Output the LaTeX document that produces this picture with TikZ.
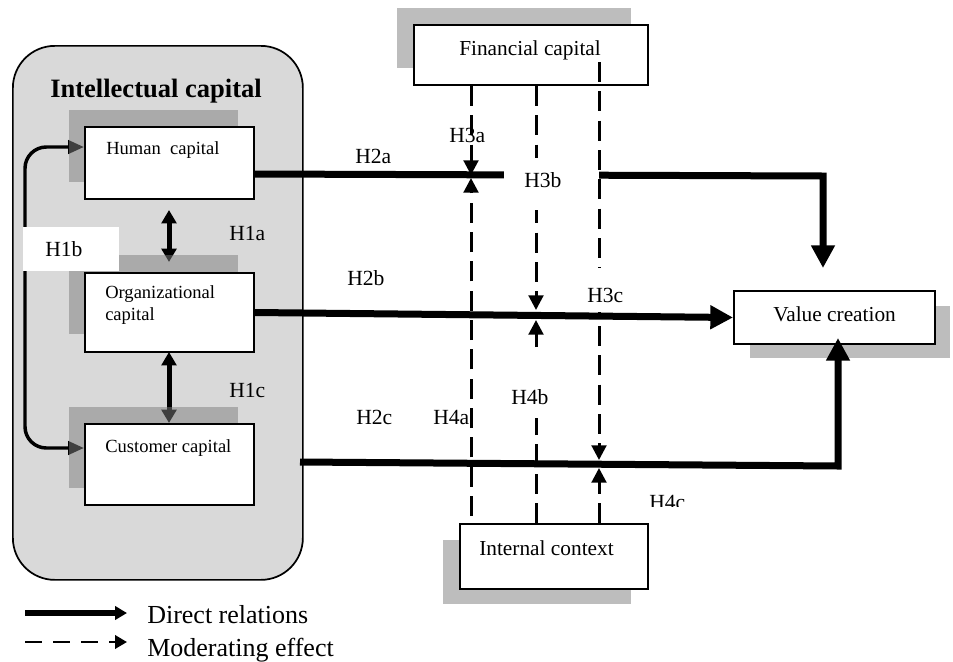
\documentclass[tikz,border=0pt]{standalone}
\usepackage{fontspec}
\setmainfont{Liberation Serif}
\usetikzlibrary{arrows.meta,calc}
\definecolor{icgray}{RGB}{217,217,217}
\definecolor{shadowgray}{RGB}{125,125,125}
\newcommand\tkinfont{\fontsize{13.9}{16}\selectfont}
\newcommand\tkoutfont{\fontsize{16}{19}\selectfont}
\newcommand\tklabfont{\fontsize{16.2}{19}\selectfont}
\newcommand\tktitlefont{\fontsize{19.9}{23}\selectfont\bfseries}
\newcommand\tklegfont{\fontsize{19.5}{23}\selectfont}
\begin{document}
\begin{tikzpicture}[x=0.75pt,y=-0.75pt,
  boxnode/.style={draw=black, line width=1.5pt, fill=white, rectangle, inner sep=0pt, anchor=north west},
  shadowbox/.style={fill=shadowgray, fill opacity=0.51},
  txt/.style={anchor=base west, inner sep=0pt},
  intext/.style={txt, font=\tkinfont},
  outtext/.style={txt, font=\tkoutfont},
  hlab/.style={txt, font=\tklabfont},
  mainline/.style={line width=5.25pt, -{Triangle[length=17pt,width=17pt]}},
  dblarrow/.style={line width=3.75pt, {Triangle[length=10pt,width=11pt]}-{Triangle[length=10pt,width=11pt]}},
  hbarrow/.style={line width=2.6pt, rounded corners=16pt, {Triangle[length=12pt,width=10pt]}-{Triangle[length=12pt,width=10pt]}},
  modline/.style={line width=2.25pt, dash pattern=on 15pt off 7pt, -{Triangle[length=11pt,width=11pt]}},
  legsolid/.style={line width=4.5pt, -{Triangle[length=9pt,width=10pt]}},
  legdash/.style={line width=2pt, dash pattern=on 13pt off 8pt, -{Triangle[length=9pt,width=10pt]}},
  whitecover/.style={fill=white}
]
\useasboundingbox (0,0) rectangle (953,661);

% Intellectual capital container
\node[draw, line width=1.3pt, fill=icgray, rounded corners=31.5pt, minimum width=217.5pt, minimum height=400.5pt, anchor=north west, inner sep=0pt] (ic) at (12,45) {};
\node[txt, font=\tktitlefont] (ictitle) at (50,97) {Intellectual capital};

\path (84,126) coordinate (hnw) (84,272) coordinate (onw) (84,423) coordinate (cnw);

% H1 arrows (drawn before shadows)
\coordinate (h1atop) at (169,210);
\coordinate (h1abot) at (169,262);
\draw[dblarrow] (h1atop) -- (h1abot);
\coordinate (h1ctop) at (169,352);
\coordinate (h1cbot) at (169,423);
\draw[dblarrow] (h1ctop) -- (h1cbot);
\coordinate (h1bs) at (84,147);
\coordinate (h1bc1) at (25,147);
\coordinate (h1bc2) at (25,448);
\coordinate (h1be) at (84,448);
\draw[hbarrow] (h1bs) -- (h1bc1) -- (h1bc2) -- (h1be);

% shadows
\fill[shadowbox] (69,110) rectangle (238,182);
\fill[shadowbox] (69,255) rectangle (238,334);
\fill[shadowbox] (69,407) rectangle (238,488);
\fill[shadowbox] (397,8) rectangle (631,68);
\fill[shadowbox] (750,306) rectangle (950,358);
\fill[shadowbox] (443,540) rectangle (631,604);

% boxes
\node[boxnode, minimum width=126.75pt, minimum height=54pt] (human) at (hnw) {};
\node[boxnode, minimum width=126.75pt, minimum height=59.25pt] (org) at (onw) {};
\node[boxnode, minimum width=126.75pt, minimum height=60.75pt] (cust) at (cnw) {};
\node[boxnode, minimum width=175.5pt, minimum height=45pt] (fin) at (413,24) {};
\node[boxnode, minimum width=150.75pt, minimum height=39.75pt] (val) at (733,290) {};
\node[boxnode, minimum width=141pt, minimum height=48.75pt] (intc) at (459,523) {};

% box texts
\node[intext] (humant) at (106,154) {Human\ \ capital};
\node[intext] (orgt1) at (105,298) {Organizational};
\node[intext] (orgt2) at (105,320) {capital};
\node[intext] (custt) at (105,452) {Customer capital};
\node[outtext] (fint) at (459,55) {Financial capital};
\node[outtext] (valt) at (773,321) {Value creation};
\node[outtext] (intct) at (479,555) {Internal context};

% direct relations
\coordinate (h2abend) at (823,176);
\coordinate (h2aend) at (823,268);
\draw[mainline] ($(human.east)+(0,11)$) -- (h2abend) -- (h2aend);
\draw[mainline] (org.east) -- (val.west);
\coordinate (h2cstart) at (300,462);
\coordinate (h2cbend) at (838,466);
\coordinate (h2cend) at (838,338);
\draw[mainline] (h2cstart) -- (h2cbend) -- (h2cend);

% H3a label (crossed by dashed line)
\node[hlab] (h3a) at (449,142) {H3a};

% moderating lines
\coordinate (xa) at (471,0);
\coordinate (xb) at (536,0);
\coordinate (xc) at (599,0);
\coordinate (a3) at (471,175);
\coordinate (a4) at (471,178);
\coordinate (a4s) at (471,516);
\coordinate (b3) at (536,310);
\coordinate (b4) at (536,320);
\coordinate (c3s) at (599,62);
\coordinate (c3) at (599,460);
\coordinate (c4) at (599,468);
\draw[modline] (fin.south -| xa) -- (a3);
\draw[modline] (a4s) -- (a4);
\draw[modline] (fin.south -| xb) -- (b3);
\draw[modline] (intc.north -| xb) -- (b4);

% white label patch H3b
\fill[whitecover] (504,158) rectangle (599,210);
\draw[modline] (c3s) -- (c3);
\draw[modline] (intc.north -| xc) -- (c4);

% other white label patches
\fill[whitecover] (567,268) rectangle (647,312);
\fill[whitecover] (23,227) rectangle (119,271);
\fill[whitecover] (505,356) rectangle (553,418);

% labels
\node[hlab] (h1a) at (229,240) {H1a};
\node[hlab] (h1b) at (45,256) {H1b};
\node[hlab] (h1c) at (229,397) {H1c};
\node[hlab] (h2a) at (355,163) {H2a};
\node[hlab] (h3b) at (524,187) {H3b};
\node[hlab] (h2b) at (347,285) {H2b};
\node[hlab] (h3c) at (587,302) {H3c};
\node[hlab] (h2c) at (356,424) {H2c};
\node[hlab] (h4a) at (433,424) {H4a};
\node[hlab] (h4b) at (511,404) {H4b};
\node[hlab] (h4c) at (649,509) {H4c};
\fill[whitecover] (640,507) rectangle (700,522);

% legend
\coordinate (l1s) at (25,613);
\coordinate (l1e) at (127,613);
\coordinate (l2s) at (25,642);
\coordinate (l2e) at (127,642);
\draw[legsolid] (l1s) -- (l1e);
\draw[legdash] (l2s) -- (l2e);
\node[txt, font=\tklegfont] (leg1) at (147,623) {Direct relations};
\node[txt, font=\tklegfont] (leg2) at (147,656) {Moderating effect};
\end{tikzpicture}
\end{document}
